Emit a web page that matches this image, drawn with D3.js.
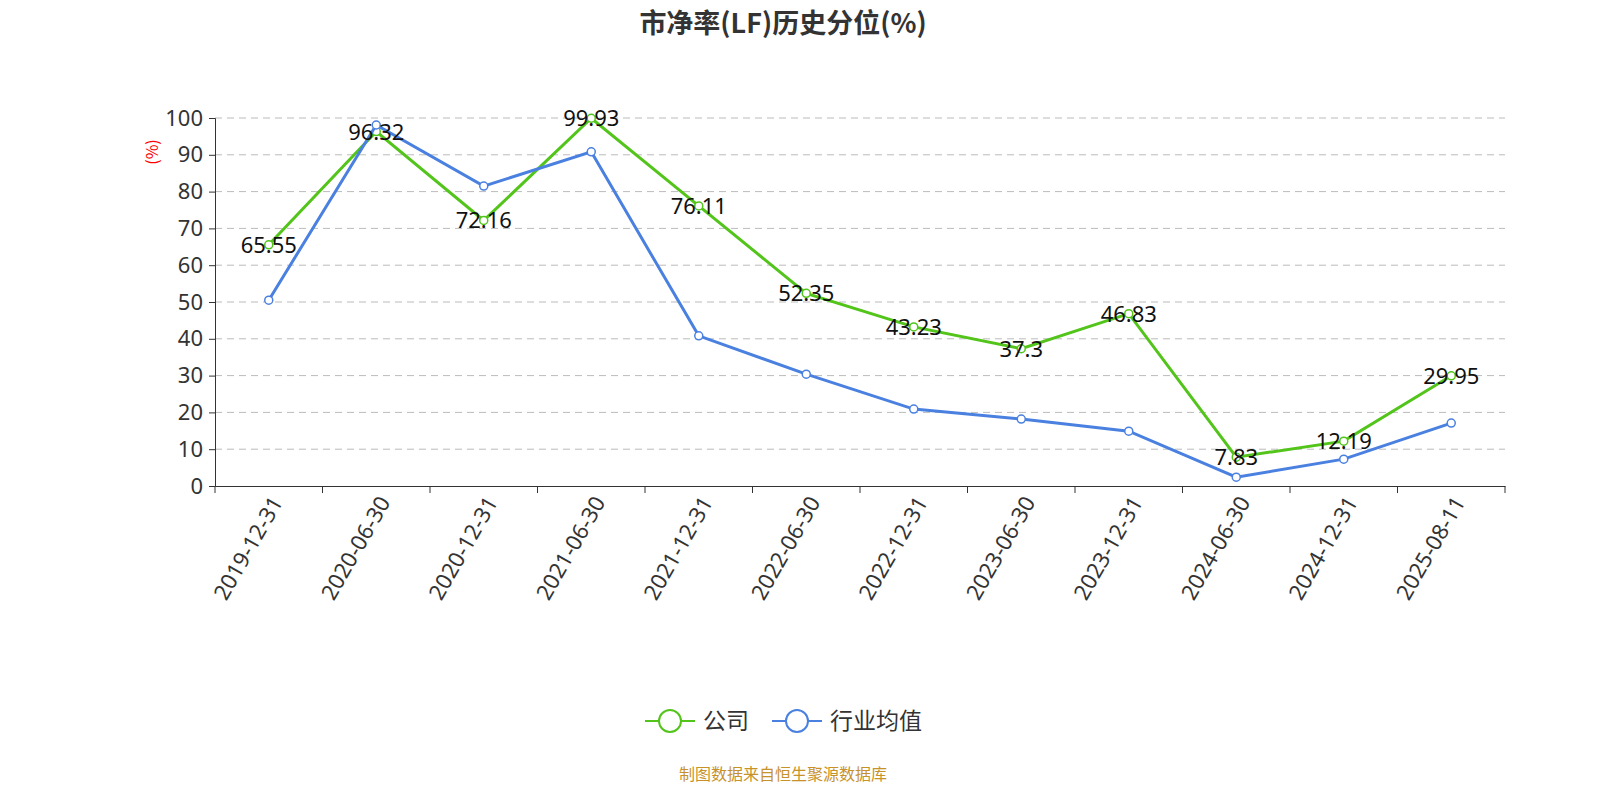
<!DOCTYPE html>
<html><head><meta charset="utf-8">
<script src="https://cdn.jsdelivr.net/npm/d3@7/dist/d3.min.js"></script>
<style>body{margin:0;background:#fff;font-family:"Noto Sans CJK SC","Noto Sans",sans-serif;}</style>
</head><body><svg id="c" width="1600" height="800"></svg>
<script>
var categories = ["2019-12-31","2020-06-30","2020-12-31","2021-06-30","2021-12-31","2022-06-30","2022-12-31","2023-06-30","2023-12-31","2024-06-30","2024-12-31","2025-08-11"];
var company = [65.55,96.32,72.16,99.93,76.11,52.35,43.23,37.3,46.83,7.83,12.19,29.95];
var industry = [50.5,98.1,81.5,90.8,40.8,30.4,20.9,18.2,14.9,2.4,7.3,17.1];
var yTicks = [0,10,20,30,40,50,60,70,80,90,100];

var svg = d3.select("#c");
var x = d3.scaleBand().domain(categories).range([215,1505]);
var y = d3.scaleLinear().domain([0,100]).range([486,118]);
var cx = function(d,i){ return x(categories[i]) + x.bandwidth()/2; };

svg.append("text").attr("x",783).attr("y",33).attr("text-anchor","middle")
  .attr("font-size",27).attr("font-weight","bold").attr("fill","#333").text("市净率(LF)历史分位(%)");

svg.append("g").selectAll("line").data(yTicks.slice(1)).join("line")
  .attr("x1",215).attr("x2",1505).attr("y1",d=>y(d)).attr("y2",d=>y(d))
  .attr("stroke","#bbb").attr("stroke-dasharray","7,5");

var ya = svg.append("g").attr("transform","translate(215,0)")
  .call(d3.axisLeft(y).tickValues(yTicks).tickSize(6).tickPadding(6));
ya.selectAll("text").attr("font-size",22).attr("fill","#333").attr("font-family","Noto Sans");
ya.selectAll("line,path").attr("stroke","#333");

var xa = svg.append("g").attr("transform","translate(0,486)")
  .call(d3.axisBottom(x).tickSize(0).tickPadding(10));
xa.selectAll("text").attr("font-size",22).attr("fill","#333").attr("font-family","Noto Sans")
  .attr("text-anchor","end").attr("transform","rotate(-60)").attr("dx","-0.3em").attr("dy","0.5em");
xa.select("path").attr("stroke","#333");
svg.append("g").selectAll("line").data(d3.range(13)).join("line")
  .attr("x1",d=>215+d*x.bandwidth()).attr("x2",d=>215+d*x.bandwidth())
  .attr("y1",486).attr("y2",493).attr("stroke","#333");

svg.append("text").attr("transform","translate(158,152) rotate(-90)").attr("text-anchor","middle")
  .attr("font-size",16).attr("fill","red").text("(%)");

var line = d3.line().x(cx).y(d=>y(d));
function series(data,color){
  svg.append("path").datum(data).attr("d",line).attr("fill","none").attr("stroke",color).attr("stroke-width",3);
  svg.append("g").selectAll("circle").data(data).join("circle")
    .attr("cx",cx).attr("cy",d=>y(d)).attr("r",4).attr("fill","#fff").attr("stroke",color).attr("stroke-width",1.5);
}
series(company,"#52c41a");
series(industry,"#4a80e0");
svg.append("g").selectAll("text").data(company).join("text")
  .attr("x",cx).attr("y",d=>y(d)+8).attr("text-anchor","middle").attr("font-size",22)
  .attr("font-family","Noto Sans").attr("fill","#111").text(d=>d);

var leg = [["公司","#52c41a",645],["行业均值","#4a80e0",772]];
leg.forEach(function(l){
  var g = svg.append("g").attr("transform","translate("+l[2]+",721)");
  g.append("line").attr("x1",0).attr("x2",50).attr("stroke",l[1]).attr("stroke-width",2);
  g.append("circle").attr("cx",25).attr("r",11).attr("fill","#fff").attr("stroke",l[1]).attr("stroke-width",2);
  g.append("text").attr("x",58).attr("y",8).attr("font-size",23).attr("fill","#333").text(l[0]);
});

svg.append("text").attr("x",783).attr("y",780).attr("text-anchor","middle")
  .attr("font-size",16).attr("fill","#c8922a").text("制图数据来自恒生聚源数据库");
</script></body></html>
